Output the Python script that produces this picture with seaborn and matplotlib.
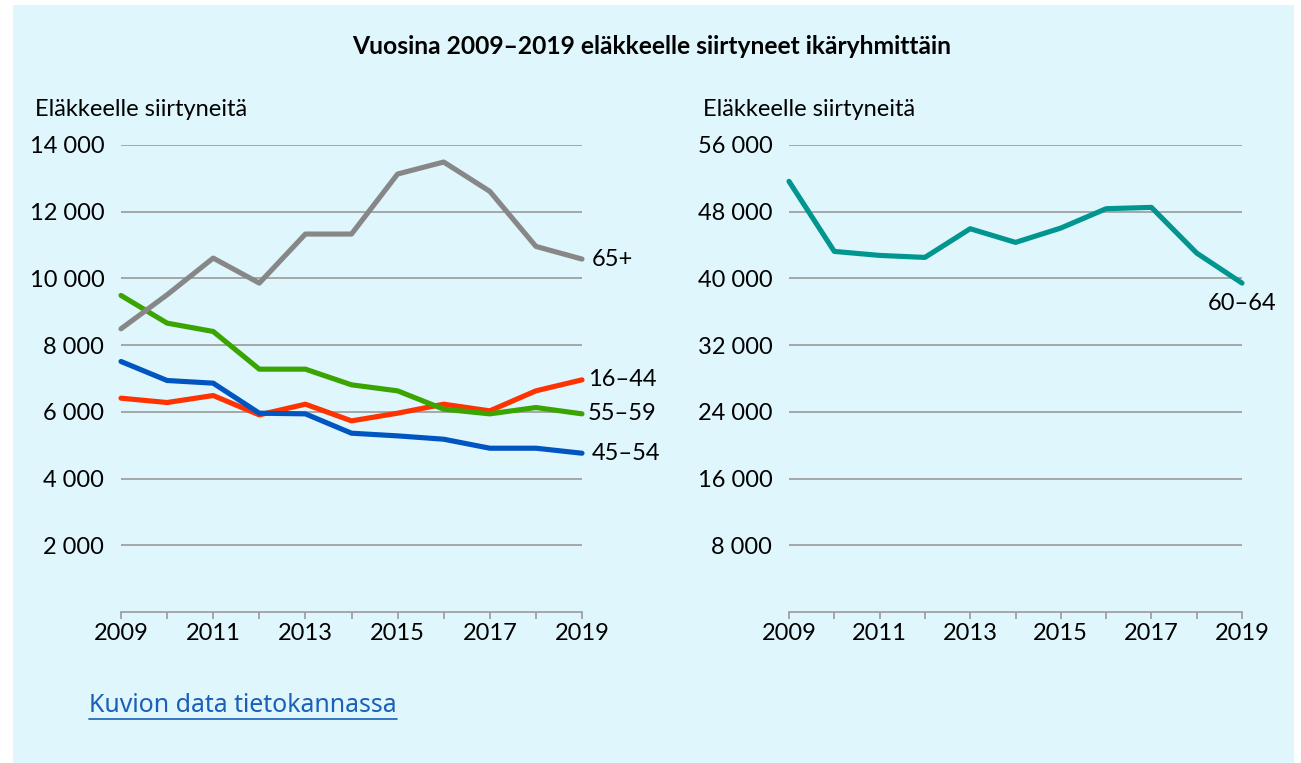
import numpy as np
import pandas as pd
import matplotlib
matplotlib.use("Agg")
import matplotlib.pyplot as plt
from matplotlib.patches import Rectangle
from matplotlib.lines import Line2D
from matplotlib.ticker import FuncFormatter
import seaborn as sns

# --- data ---
years = [2009, 2010, 2011, 2012, 2013, 2014, 2015, 2016, 2017, 2018, 2019]
age_16_44 = [6410, 6280, 6490, 5910, 6230, 5730, 5960, 6230, 6030, 6630, 6960]
age_45_54 = [7510, 6940, 6860, 5960, 5940, 5360, 5280, 5180, 4910, 4910, 4760]
age_55_59 = [9490, 8660, 8410, 7280, 7280, 6810, 6630, 6080, 5940, 6130, 5940]
age_65_plus = [8490, 9510, 10610, 9860, 11330, 11330, 13130, 13490, 12610, 10960, 10580]
age_60_64 = [51640, 43240, 42760, 42520, 45960, 44320, 46040, 48360, 48520, 43040, 39440]

left_groups = ["16–44", "45–54", "55–59", "65+"]
left_values = [age_16_44, age_45_54, age_55_59, age_65_plus]
left_colors = ["#ff3300", "#0055c0", "#3aa500", "#878787"]
right_group = "60–64"
right_color = "#00968f"

title = "Vuosina 2009–2019 eläkkeelle siirtyneet ikäryhmittäin"
ylabel = "Eläkkeelle siirtyneitä"
link_text = "Kuvion data tietokannassa"

sns.set_theme(style="white")
plt.rcParams["font.family"] = ["Lato", "DejaVu Sans"]

BG = "#dff6fd"
GRID = "#9a9a9a"
W, H = 1301, 763

fig = plt.figure(figsize=(W / 100, H / 100), dpi=100)
fig.patch.set_facecolor("white")
fig.add_artist(Rectangle((13 / W, 0), (1294 - 13) / W, 1 - 5 / H,
                         transform=fig.transFigure, facecolor=BG,
                         edgecolor="none", zorder=-10))


def px_axes(x0, x1, y_top, y_bot):
    return fig.add_axes([x0 / W, 1 - y_bot / H, (x1 - x0) / W, (y_bot - y_top) / H])


def style_axes(ax, ymax, step):
    ax.set_facecolor("none")
    ax.set_xlim(years[0], years[-1])
    ax.set_ylim(0, ymax)
    ax.set_yticks(np.arange(step, ymax + 1, step))
    ax.yaxis.set_major_formatter(FuncFormatter(lambda v, _: f"{int(v):,}".replace(",", " ")))
    ax.set_xticks(years)
    ax.set_xticklabels([str(y) if (y - years[0]) % 2 == 0 else "" for y in years])
    for s in ["top", "right", "left"]:
        ax.spines[s].set_visible(False)
    ax.spines["bottom"].set_color(GRID)
    ax.spines["bottom"].set_linewidth(1.2)
    ax.grid(axis="y", color=GRID, linewidth=1.2)
    ax.grid(axis="x", visible=False)
    ax.tick_params(axis="y", length=0, pad=12, labelsize=17, labelcolor="black")
    ax.tick_params(axis="x", direction="out", length=5, width=1.2, color=GRID,
                   pad=3, labelsize=17, labelcolor="black", bottom=True)
    ax.set_xlabel("")
    ax.set_ylabel("")
    ax.set_axisbelow(True)


# left panel
ax1 = px_axes(121, 582, 145, 612)
for name, vals, col in zip(left_groups, left_values, left_colors):
    sns.lineplot(x=years, y=vals, ax=ax1, color=col, linewidth=3.7,
                 solid_capstyle="round", clip_on=False)
style_axes(ax1, 14000, 2000)
offsets = {"65+": (7, 0), "16–44": (4, 0), "55–59": (4, 0), "45–54": (7, 0)}
for name, vals in zip(left_groups, left_values):
    ax1.annotate(name, (years[-1], vals[-1]), xytext=offsets[name],
                 textcoords="offset points", ha="left", va="center",
                 fontsize=17, color="black", annotation_clip=False)

# right panel
ax2 = px_axes(789, 1242, 145, 612)
sns.lineplot(x=years, y=age_60_64, ax=ax2, color=right_color, linewidth=3.7,
             solid_capstyle="round", clip_on=False)
style_axes(ax2, 56000, 8000)
ax2.annotate(right_group, (years[-1], age_60_64[-1]), xytext=(0, -7),
             textcoords="offset points", ha="center", va="top",
             fontsize=17, color="black", annotation_clip=False)

# texts
fig.text(652 / W, 1 - 47 / H, title, ha="center", va="center", fontsize=17.7,
         fontweight="bold", color="black")
fig.text(35 / W, 1 - 110 / H, ylabel, ha="left", va="center", fontsize=17, color="black")
fig.text(703 / W, 1 - 110 / H, ylabel, ha="left", va="center", fontsize=17, color="black")

link = fig.text(89 / W, 1 - 705 / H, link_text, ha="left", va="center", fontsize=17.9,
                color="#1a5fb8", family=["Noto Sans", "DejaVu Sans"])
fig.canvas.draw()
bb = link.get_window_extent()
uy = 1 - 719 / H
fig.add_artist(Line2D([bb.x0 / W, bb.x1 / W], [uy, uy], transform=fig.transFigure,
                      color="#1a5fb8", linewidth=1.2))

fig.savefig("out.png", dpi=100, facecolor=fig.get_facecolor())
